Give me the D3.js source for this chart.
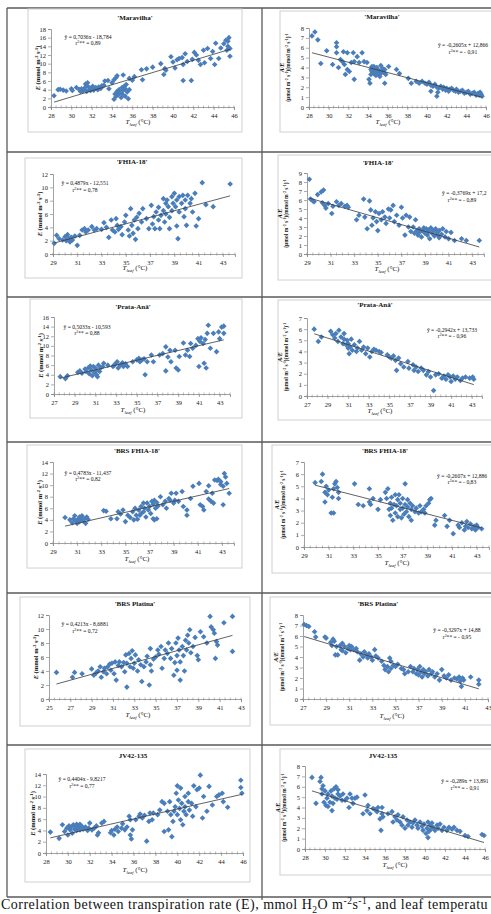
<!DOCTYPE html>
<html><head><meta charset="utf-8">
<script src="https://cdn.jsdelivr.net/npm/d3@7/dist/d3.min.js"></script>
<style>body{margin:0;background:#fff;overflow:hidden}svg{display:block}</style>
</head><body>
<svg id="c" width="491" height="914"></svg>
<script>
// ---------- DATA ----------
const titles = ["'Maravilha'", "'FHIA-18'", "'Prata-Anã'", "'BRS FHIA-18'", "'BRS Platina'", "JV42-135"];
const eqE = ["ŷ = 0,7036x - 18,784", "ŷ = 0,4879x - 12,551", "ŷ = 0,5033x - 10,593", "ŷ = 0,4783x - 11,437", "ŷ = 0,4213x - 8,6881", "ŷ = 0,4404x - 9,8217"];
const r2E = ["0,89", "0,78", "0,88", "0,82", "0,72", "0,77"];
const eqAE = ["ŷ = -0,2605x + 12,866", "ŷ = -0,3769x + 17,2", "ŷ = -0,2942x + 13,733", "ŷ = -0,2607x + 12,886", "ŷ = -0,3297x + 14,88", "ŷ = -0,289x + 13,891"];
const r2AE = ["- 0,91", "- 0,89", "- 0,96", "- 0,83", "- 0,95", "- 0,91"];
const slopeE = [0.7036, 0.4879, 0.5033, 0.4783, 0.4213, 0.4404];
const interE = [-18.784, -12.551, -10.593, -11.437, -8.6881, -9.8217];
const slopeAE = [-0.2605, -0.3769, -0.2942, -0.2607, -0.3297, -0.289];
const interAE = [12.866, 17.214, 13.733, 12.886, 14.88, 13.891];
const xDomE = [[28,46],[29,44],[27,44],[29,44],[25,43],[28,46]];
const xDomAE = [[28,46],[29,44],[27,44],[29,44],[27,43],[28,46]];
const yMaxE = [18, 12, 16, 14, 12, 14];
const yMaxAE = [8, 9, 7, 7, 8, 8];
const caption = "Correlation between transpiration rate (E), mmol H";

const maravilhaE = [[28.3,2.6],[28.7,4.0],[28.9,4.1],[29.2,3.9],[29.5,3.7],[30.0,4.2],[30.1,3.8],[30.5,4.5],[30.8,4.0],[30.9,3.6],[31.0,4.2],[31.1,3.7],[31.2,3.9],[31.3,4.4],[31.4,5.3],[31.5,4.9],[31.5,3.6],[31.6,5.6],[31.7,4.6],[31.8,4.0],[31.9,3.8],[32.0,4.4],[32.1,4.8],[32.2,3.9],[32.3,4.2],[32.4,4.5],[32.6,4.0],[32.7,4.6],[32.9,4.3],[33.0,4.9],[33.2,5.0],[33.3,6.0],[33.6,6.1],[33.7,4.2],[34.0,5.6],[34.2,6.3],[34.4,6.8],[34.5,7.2],[34.2,1.8],[34.3,3.0],[34.4,2.5],[34.5,3.6],[34.6,2.8],[34.7,4.0],[34.8,3.3],[34.9,2.2],[35.0,4.5],[35.0,3.0],[35.1,7.4],[35.1,3.8],[35.2,4.8],[35.3,4.2],[35.3,2.5],[35.4,5.2],[35.5,3.5],[35.6,1.9],[35.7,6.6],[35.7,4.0],[36.0,6.2],[36.2,7.0],[36.9,8.6],[37.0,6.3],[37.4,8.8],[38.0,9.2],[38.8,10.0],[39.1,7.5],[39.2,8.9],[39.3,8.5],[39.8,11.6],[40.0,10.4],[40.2,9.0],[40.4,10.9],[40.6,11.2],[40.9,11.4],[41.0,9.8],[41.0,6.1],[41.2,12.3],[41.4,10.5],[41.8,6.1],[41.9,11.0],[42.1,12.6],[42.3,12.0],[42.5,10.8],[42.7,9.8],[43.0,13.1],[43.1,10.2],[43.4,13.5],[43.7,11.2],[43.9,12.8],[44.1,9.8],[44.2,14.7],[44.5,11.2],[44.7,13.6],[45.0,14.6],[45.2,15.4],[45.3,13.1],[45.4,14.0],[45.5,16.0],[45.6,11.7],[45.6,13.5],[45.4,15.2]];
const maravilhaAE = [[28.3,7.2],[28.6,7.6],[28.9,6.8],[29.2,4.4],[29.8,5.7],[30.4,4.3],[30.8,6.5],[30.8,6.1],[30.8,5.5],[31.0,4.0],[31.2,4.8],[31.4,4.6],[31.5,5.6],[31.6,4.3],[31.7,3.3],[31.9,5.5],[31.9,3.8],[32.1,3.6],[32.3,4.5],[32.5,5.5],[32.6,2.8],[32.6,4.6],[32.9,5.1],[33.1,4.5],[33.4,5.5],[33.6,4.6],[33.9,4.5],[34.1,2.8],[34.2,2.4],[34.3,3.8],[34.4,4.1],[34.3,3.3],[34.4,3.6],[34.5,3.9],[34.6,3.4],[34.7,3.7],[34.8,3.2],[34.9,4.0],[35.0,3.5],[35.0,3.8],[35.1,3.3],[35.2,3.6],[35.3,4.2],[35.3,3.4],[35.4,3.7],[35.5,3.9],[35.6,3.5],[35.7,3.8],[35.8,3.3],[34.6,4.1],[35.2,3.1],[35.7,2.4],[36.1,4.1],[36.9,3.8],[37.2,3.4],[38.1,2.9],[38.4,2.4],[38.9,2.6],[39.2,2.4],[39.5,2.6],[39.8,2.4],[40.0,2.3],[40.2,2.5],[40.4,2.2],[40.4,1.6],[40.6,2.1],[40.8,2.3],[41.0,1.1],[41.1,1.5],[41.0,2.0],[41.2,1.9],[41.4,2.1],[41.6,1.8],[41.7,2.0],[41.9,1.7],[42.0,1.9],[42.2,1.6],[42.3,1.8],[42.5,1.9],[42.7,1.7],[42.9,1.6],[43.0,1.8],[43.2,1.5],[43.4,1.6],[43.6,1.7],[43.8,1.4],[44.0,1.5],[44.2,1.6],[44.4,1.3],[44.6,1.4],[44.8,1.5],[45.0,1.2],[45.2,1.4],[45.3,1.2],[45.5,1.3],[45.6,1.1],[45.4,1.5]];
const fhiaE = [[29.1,1.6],[29.3,2.8],[29.5,2.3],[29.8,2.1],[30.0,2.6],[30.1,2.0],[30.2,2.9],[30.3,2.3],[30.4,1.8],[30.5,2.5],[30.6,2.1],[30.8,2.7],[31.0,1.3],[31.2,2.8],[31.4,3.6],[31.6,3.8],[31.7,3.3],[31.9,3.6],[32.2,4.1],[32.4,3.6],[32.6,3.8],[33.0,3.7],[33.2,4.7],[33.4,4.0],[33.6,2.5],[33.8,5.1],[33.9,3.6],[34.1,3.3],[34.2,5.3],[34.3,4.3],[34.4,3.7],[34.6,4.1],[34.7,2.9],[34.9,4.8],[35.0,5.8],[35.2,3.6],[35.3,2.7],[35.4,6.8],[35.5,4.3],[35.6,3.1],[35.7,5.1],[35.8,2.2],[35.9,5.5],[36.0,3.8],[36.1,6.1],[36.3,4.8],[36.4,6.8],[36.7,5.3],[36.9,3.8],[37.1,7.3],[37.2,4.5],[37.3,5.6],[37.4,3.8],[37.5,6.3],[37.7,5.1],[37.7,7.0],[37.8,3.8],[37.9,5.8],[38.1,8.3],[38.1,6.5],[38.2,4.8],[38.3,7.6],[38.3,6.0],[38.4,8.1],[38.5,7.1],[38.6,3.8],[38.6,5.5],[38.8,8.6],[38.8,6.5],[38.9,7.6],[39.0,9.1],[39.1,7.1],[39.2,8.1],[39.2,4.2],[39.3,2.3],[39.4,8.6],[39.4,6.3],[39.6,7.6],[39.7,8.8],[39.8,5.6],[39.9,8.1],[39.9,6.8],[40.0,4.3],[40.1,8.8],[40.3,7.6],[40.4,8.3],[40.5,6.3],[40.7,9.1],[40.8,4.2],[41.0,5.3],[41.3,10.7],[41.6,7.4],[42.2,7.1],[43.6,10.5]];
const fhiaAE = [[29.2,8.3],[29.3,6.1],[29.5,5.9],[29.6,5.8],[29.9,6.6],[30.2,6.9],[30.4,7.1],[30.3,5.7],[30.5,5.4],[30.6,5.1],[30.8,5.6],[31.1,4.5],[31.2,5.3],[31.5,5.8],[31.7,5.4],[31.9,5.6],[32.2,5.3],[32.4,5.4],[32.5,5.2],[33.2,3.8],[33.4,4.3],[33.8,6.1],[33.9,4.1],[34.1,2.8],[34.3,5.9],[34.4,4.9],[34.5,3.2],[34.6,4.0],[34.8,4.7],[34.9,3.6],[35.0,2.6],[35.1,4.5],[35.3,3.8],[35.4,4.7],[35.6,4.1],[35.7,3.4],[35.9,5.0],[36.0,4.0],[36.1,4.9],[36.3,5.4],[36.4,3.6],[36.6,4.3],[36.8,3.2],[37.0,5.2],[37.1,4.0],[37.3,2.1],[37.4,4.3],[37.6,3.0],[37.7,4.1],[37.8,2.5],[38.0,3.0],[38.1,2.3],[38.2,3.8],[38.3,2.6],[38.4,2.1],[38.5,2.8],[38.6,2.5],[38.7,1.9],[38.8,2.6],[39.0,2.3],[39.1,2.8],[39.2,2.1],[39.3,2.5],[39.4,1.7],[39.5,2.9],[39.6,2.3],[39.7,2.6],[39.8,2.0],[39.9,2.8],[40.0,2.4],[40.2,1.8],[40.2,2.6],[40.4,2.2],[40.5,2.8],[40.7,1.9],[40.8,2.5],[41.0,1.7],[41.2,2.4],[41.5,1.5],[42.1,1.7],[42.5,1.5],[43.6,1.5],[38.9,2.9],[39.3,2.7],[38.5,2.4],[40.1,2.1]];
const prataE = [[27.6,3.6],[28.1,3.2],[28.3,3.8],[29.3,4.5],[29.5,4.8],[29.7,4.3],[30.0,5.2],[30.1,4.7],[30.3,5.4],[30.4,4.2],[30.5,5.8],[30.6,5.0],[30.7,3.8],[30.8,5.7],[30.9,4.5],[31.0,5.4],[31.1,4.0],[31.1,4.9],[31.2,3.6],[31.3,6.0],[31.4,4.7],[31.5,5.4],[31.7,5.7],[31.8,6.4],[32.2,6.0],[32.7,5.7],[32.8,6.0],[33.0,6.4],[33.1,6.7],[33.2,5.4],[33.4,6.0],[33.6,6.5],[33.7,5.7],[33.9,6.3],[34.1,5.7],[34.6,6.7],[35.0,7.1],[35.2,7.4],[35.3,6.7],[35.5,7.1],[35.7,7.3],[35.8,4.0],[36.0,6.7],[36.4,8.1],[36.6,6.7],[37.2,8.1],[37.5,8.4],[37.8,4.8],[37.8,9.8],[38.0,7.7],[38.2,9.1],[38.3,6.7],[38.7,9.1],[38.8,5.4],[39.0,5.0],[39.1,7.8],[39.5,10.6],[39.7,8.1],[39.9,9.1],[40.1,7.8],[40.2,10.5],[40.4,9.5],[40.7,10.1],[40.9,11.5],[41.0,5.7],[41.1,10.9],[41.2,11.7],[41.4,10.5],[41.5,6.4],[41.6,11.3],[41.7,5.4],[41.8,12.6],[41.9,14.3],[42.1,9.5],[42.4,12.6],[42.7,8.8],[42.9,12.9],[43.0,11.5],[43.2,13.9],[43.4,12.6],[43.4,14.1]];
const prataAE = [[27.7,6.0],[28.1,4.9],[28.4,5.3],[29.3,5.8],[29.5,5.5],[29.7,5.2],[29.8,5.6],[30.0,4.9],[30.1,5.9],[30.3,5.3],[30.5,4.7],[30.6,5.1],[30.6,5.6],[30.8,4.6],[30.9,5.0],[31.0,4.3],[31.0,4.7],[31.1,3.8],[31.2,4.4],[31.3,5.1],[31.4,4.1],[31.6,4.6],[31.8,4.0],[31.9,4.3],[32.1,4.9],[32.3,4.1],[32.5,4.4],[32.7,3.8],[32.9,4.3],[33.1,3.5],[33.3,4.0],[33.5,4.2],[33.7,4.1],[34.0,4.0],[34.2,3.9],[34.8,3.7],[35.0,3.5],[35.2,3.4],[35.4,3.6],[35.6,3.2],[35.7,2.3],[35.9,3.4],[36.1,2.9],[36.4,2.6],[36.8,3.1],[36.9,2.5],[37.3,2.8],[37.4,2.3],[37.6,2.6],[37.8,2.2],[38.1,2.5],[38.3,2.3],[38.6,1.9],[38.8,2.2],[39.0,1.7],[39.3,0.5],[39.5,1.9],[39.8,2.0],[40.1,1.6],[40.3,1.8],[40.5,1.5],[40.7,1.9],[40.9,1.7],[41.0,1.3],[41.2,1.8],[41.4,1.5],[41.6,1.7],[41.9,1.4],[42.1,1.6],[42.4,1.7],[42.8,1.6],[43.1,1.7],[43.2,1.5]];
const brsFhiaE = [[30.0,4.4],[30.4,4.0],[30.6,3.5],[30.7,4.2],[30.8,4.7],[30.9,3.8],[31.0,3.4],[31.1,4.2],[31.2,4.5],[31.2,3.7],[31.4,4.1],[31.4,4.7],[31.5,3.8],[31.6,4.2],[31.7,3.4],[31.8,4.5],[31.9,4.1],[33.2,5.6],[33.4,5.5],[33.8,4.2],[34.3,4.2],[34.4,5.4],[34.6,5.0],[34.8,5.7],[35.0,3.7],[35.2,4.8],[35.4,4.4],[35.6,5.4],[35.7,4.0],[35.8,6.0],[35.9,4.8],[36.0,4.1],[36.1,5.7],[36.2,4.8],[36.3,6.3],[36.3,5.1],[36.5,6.9],[36.5,5.4],[36.6,6.0],[36.7,4.5],[36.8,6.9],[36.9,5.7],[37.0,6.3],[37.1,5.1],[37.2,7.2],[37.3,4.2],[37.3,6.7],[37.4,4.0],[37.4,7.4],[37.5,6.0],[37.6,4.2],[37.6,7.0],[37.7,6.4],[37.9,8.0],[38.1,6.6],[38.3,7.2],[38.4,6.0],[38.6,7.7],[38.7,7.4],[38.8,8.6],[39.0,6.9],[39.1,7.4],[39.2,8.6],[39.4,7.2],[39.7,8.9],[39.8,6.3],[40.1,4.8],[40.1,5.7],[40.4,7.7],[40.6,9.8],[41.1,10.3],[41.2,6.6],[41.4,6.3],[41.5,5.7],[41.7,8.9],[41.9,9.9],[41.9,7.6],[42.1,7.2],[42.2,8.6],[42.3,6.9],[42.4,10.9],[42.6,10.8],[42.7,11.0],[42.9,10.6],[42.9,10.1],[43.1,6.6],[43.1,9.8],[43.2,12.0],[43.3,11.4],[43.4,10.3],[43.6,8.6]];
const brsFhiaAE = [[29.9,5.3],[30.4,5.4],[30.5,6.0],[30.7,4.5],[30.7,3.7],[30.8,5.0],[30.9,4.3],[31.0,4.7],[31.2,2.8],[31.3,4.1],[31.4,4.8],[31.4,2.8],[31.5,5.2],[31.6,5.4],[31.7,4.9],[31.8,4.0],[31.8,4.5],[33.1,5.2],[33.4,3.5],[33.8,3.4],[34.3,4.8],[34.3,3.7],[34.4,3.5],[34.6,4.0],[35.0,3.1],[35.2,3.9],[35.6,4.5],[35.7,4.0],[35.8,4.8],[35.9,3.1],[36.0,3.6],[36.0,2.6],[36.1,4.1],[36.1,3.2],[36.2,2.2],[36.3,3.5],[36.4,4.3],[36.4,2.8],[36.5,3.4],[36.6,3.9],[36.6,2.5],[36.7,4.3],[36.8,3.1],[36.8,3.6],[36.9,2.4],[37.0,3.2],[37.0,4.0],[37.1,2.7],[37.2,5.2],[37.2,3.5],[37.3,2.9],[37.4,3.9],[37.4,3.3],[37.5,2.5],[37.6,3.6],[37.7,3.1],[37.7,2.2],[37.8,3.4],[38.0,2.9],[38.1,3.2],[38.3,2.8],[38.4,3.4],[38.5,2.9],[38.7,3.1],[38.8,2.8],[38.9,3.4],[39.1,3.6],[39.2,3.9],[39.3,4.0],[39.6,1.8],[39.7,2.2],[40.4,2.6],[40.6,1.7],[40.8,2.2],[41.1,1.1],[41.5,1.8],[41.6,1.6],[41.8,2.0],[42.0,1.4],[42.1,1.7],[42.2,2.1],[42.3,1.6],[42.5,1.9],[42.6,1.5],[42.8,1.7],[42.9,1.4],[43.0,1.8],[43.1,1.6],[43.4,1.5]];
const platinaE = [[25.7,3.8],[27.2,3.1],[27.4,3.8],[28.1,3.6],[29.0,4.3],[29.2,3.4],[29.4,3.7],[29.6,4.0],[29.8,4.6],[29.9,3.1],[30.1,3.9],[30.2,4.4],[30.4,3.6],[30.5,4.6],[30.7,5.0],[30.8,4.1],[30.9,5.1],[31.1,3.6],[31.2,5.3],[31.3,2.7],[31.5,4.8],[31.6,5.3],[31.8,4.6],[32.0,5.2],[32.1,3.9],[32.2,6.3],[32.3,1.7],[32.3,5.1],[32.5,6.5],[32.6,4.6],[32.7,5.8],[32.8,6.9],[32.9,4.4],[33.0,5.1],[33.1,6.3],[33.3,4.0],[33.4,5.6],[33.6,4.9],[33.7,2.5],[33.9,4.6],[34.1,5.3],[34.2,6.1],[34.4,2.0],[34.5,4.9],[34.5,7.2],[34.6,4.0],[34.8,5.7],[35.0,6.0],[35.2,7.0],[35.3,6.4],[35.5,7.5],[35.6,4.4],[35.8,5.8],[35.9,7.0],[36.1,6.5],[36.2,8.0],[36.4,5.8],[36.5,7.2],[36.7,3.4],[36.8,5.2],[36.9,8.0],[37.0,6.2],[37.0,4.1],[37.1,8.7],[37.2,7.0],[37.3,5.3],[37.3,2.7],[37.5,7.5],[37.6,6.2],[37.7,4.0],[37.8,8.4],[37.9,7.0],[38.0,9.1],[38.1,8.0],[38.2,9.9],[38.3,6.6],[38.5,7.5],[38.7,8.8],[38.9,6.2],[39.0,5.6],[39.2,9.6],[39.5,8.9],[39.8,8.0],[40.1,11.8],[40.2,10.3],[40.4,9.9],[40.5,9.4],[40.6,5.8],[40.7,8.2],[40.8,7.7],[41.4,10.9],[42.2,11.8],[42.2,6.8]];
const platinaAE = [[27.1,7.1],[27.3,7.0],[27.5,6.9],[28.0,6.4],[28.1,5.9],[28.9,5.9],[29.0,5.8],[29.4,5.4],[29.5,5.1],[29.6,5.7],[29.7,5.5],[29.8,4.2],[29.9,5.0],[30.0,4.2],[30.2,5.1],[30.3,4.7],[30.4,5.3],[30.4,4.6],[30.6,5.0],[30.7,4.4],[30.9,4.8],[31.0,5.1],[31.1,4.7],[31.2,5.0],[31.4,4.7],[31.6,4.8],[31.7,4.5],[31.9,3.7],[32.0,4.3],[32.2,4.0],[32.3,4.5],[32.5,4.2],[32.6,3.9],[32.7,4.3],[32.9,4.0],[33.0,3.7],[33.2,4.7],[33.3,4.1],[33.5,3.9],[33.8,3.6],[34.0,3.2],[34.1,2.8],[34.3,3.1],[34.4,2.6],[34.5,3.9],[34.6,2.9],[34.6,3.6],[34.8,3.2],[35.0,3.1],[35.2,3.3],[35.5,2.9],[35.7,2.8],[35.8,2.4],[36.1,2.6],[36.3,3.1],[36.5,2.6],[36.6,2.9],[36.8,2.4],[36.9,2.8],[37.0,2.3],[37.1,3.1],[37.2,2.6],[37.3,2.1],[37.4,2.8],[37.5,2.4],[37.6,2.6],[37.8,2.2],[37.9,2.8],[38.1,2.4],[38.2,2.6],[38.4,2.1],[38.6,2.4],[38.8,1.8],[39.0,2.8],[39.2,2.2],[39.4,2.0],[39.6,2.3],[39.8,1.8],[40.1,2.0],[40.3,1.9],[40.5,2.1],[40.6,1.7],[40.7,1.2],[40.8,2.0],[40.9,1.8],[41.5,2.1],[42.2,1.8],[42.2,1.4]];
const jvE = [[28.4,3.7],[29.2,2.6],[29.5,5.0],[29.7,3.8],[29.9,4.4],[30.0,3.2],[30.1,4.8],[30.2,4.1],[30.3,4.6],[30.4,3.5],[30.5,5.0],[30.6,4.2],[30.7,4.7],[30.8,5.1],[30.8,4.0],[30.9,4.8],[31.0,4.4],[31.1,5.1],[31.1,4.1],[31.3,4.7],[31.4,4.2],[31.6,4.6],[31.8,4.0],[31.9,4.4],[32.0,5.3],[32.2,4.1],[32.4,4.4],[32.6,4.8],[32.7,3.2],[32.8,3.6],[33.1,5.3],[33.3,5.6],[33.9,3.6],[34.0,4.0],[34.2,3.2],[34.3,4.2],[34.5,4.6],[34.6,3.8],[34.9,4.4],[35.0,5.2],[35.2,4.1],[35.4,4.6],[35.6,6.5],[35.7,5.9],[35.7,3.2],[35.8,2.5],[35.9,4.1],[36.2,5.9],[36.5,6.5],[36.6,6.9],[36.8,6.2],[37.0,6.7],[37.2,2.1],[37.4,5.6],[37.5,7.1],[37.7,5.9],[37.8,7.1],[38.2,6.8],[38.4,7.6],[38.6,9.1],[38.8,8.8],[38.8,3.8],[39.1,7.4],[39.2,4.1],[39.3,9.1],[39.4,6.8],[39.5,2.9],[39.6,5.6],[39.7,7.4],[39.8,8.2],[39.9,10.6],[40.0,6.8],[40.0,11.9],[40.1,9.4],[40.2,7.9],[40.3,5.9],[40.3,11.5],[40.4,8.8],[40.5,5.0],[40.6,7.4],[40.7,10.0],[40.7,8.2],[40.8,6.8],[41.0,9.1],[41.0,10.6],[41.1,7.6],[41.3,8.8],[41.4,6.5],[41.5,11.9],[41.7,8.2],[41.8,11.2],[42.0,11.5],[42.1,13.8],[42.3,6.2],[42.4,10.0],[42.7,7.4],[42.9,11.8],[43.2,8.5],[43.6,10.0],[43.8,10.3],[44.1,10.6],[44.2,9.1],[44.6,8.1],[45.8,11.6],[45.8,12.9],[45.9,10.6]];
const jvAE = [[28.7,6.9],[29.1,4.4],[29.5,6.5],[29.6,6.9],[29.7,5.8],[29.7,5.3],[29.8,6.1],[29.9,4.5],[30.0,5.6],[30.1,4.2],[30.2,4.9],[30.3,4.1],[30.3,5.3],[30.5,4.5],[30.6,5.6],[30.7,3.7],[30.7,5.1],[30.8,4.4],[30.9,5.8],[31.0,4.9],[31.1,6.0],[31.2,4.8],[31.3,5.3],[31.3,5.7],[31.5,5.1],[31.7,4.7],[31.8,5.3],[32.0,4.7],[32.2,4.9],[32.4,4.0],[32.5,5.3],[32.7,4.9],[32.8,4.4],[33.0,4.9],[33.2,5.0],[33.8,3.4],[34.0,5.2],[34.2,3.7],[34.3,4.2],[34.5,3.4],[34.8,3.9],[35.0,3.8],[35.2,3.6],[35.3,4.0],[35.5,2.9],[35.6,1.8],[35.7,3.4],[35.7,4.0],[35.8,3.1],[36.3,3.4],[36.7,3.6],[36.8,2.6],[37.0,3.1],[37.2,2.8],[37.3,3.3],[37.5,2.6],[37.7,2.3],[37.8,3.1],[38.0,2.0],[38.2,2.8],[38.3,2.3],[38.5,2.6],[38.7,2.1],[38.8,2.5],[39.0,2.8],[39.2,2.3],[39.3,2.0],[39.5,2.6],[39.7,2.2],[39.8,1.8],[39.9,2.4],[40.1,1.5],[40.2,2.0],[40.3,1.1],[40.3,2.6],[40.4,1.7],[40.5,2.3],[40.6,1.9],[40.7,2.5],[40.8,2.1],[41.0,1.8],[41.2,2.3],[41.3,2.0],[41.5,2.4],[41.7,1.8],[41.9,2.1],[42.2,1.8],[42.4,2.1],[42.7,1.9],[42.9,2.1],[43.2,1.8],[43.5,1.7],[44.0,1.3],[44.3,1.2],[45.7,1.4],[45.9,1.3]];

const dataE = [maravilhaE, fhiaE, prataE, brsFhiaE, platinaE, jvE];
const dataAE = [maravilhaAE, fhiaAE, prataAE, brsFhiaAE, platinaAE, jvAE];

// ---------- LAYOUT (positions only) ----------
const layoutE = [
 {frame:[28,9,214,123], plot:[51,234,107,29], title:[135,20], xlab:[138,124], ylab:40, eq:[88,39,"middle"], r2:[88,45]},
 {frame:[25,158,217,120], plot:[53,235,254,174], title:[132,164], xlab:[135,270], ylab:42, eq:[85,185,"middle"], r2:[85,192]},
 {frame:[30,299,212,119], plot:[54,230,394,317], title:[133,309], xlab:[133,412], ylab:43, eq:[87,329,"middle"], r2:[87,335]},
 {frame:[27,445,215,123], plot:[53,234,543,462], title:[137,453], xlab:[137,561], ylab:42, eq:[88,475,"middle"], r2:[88,481]},
 {frame:[20,597,230,129], plot:[49,241,699,615], title:[135,606], xlab:[138,717], ylab:38, eq:[85,626,"middle"], r2:[85,633]},
 {frame:[25,749,225,133], plot:[46,243,853,774], title:[133,758], xlab:[135,872], ylab:35, eq:[82,781,"middle"], r2:[82,788]}
];
const layoutAE = [
 {frame:[280,11,215,121], plot:[309,486,107,28], title:[382,19], xlab:[388,124], ylab:284, eq:[463,47,"middle"], r2:[463,54]},
 {frame:[278,155,215,125], plot:[307,484,254,173], title:[378,165], xlab:[387,271], ylab:282, eq:[442,195,"start"], r2:[462,202]},
 {frame:[278,300,215,120], plot:[307,482,396,318], title:[375,307], xlab:[380,413], ylab:282, eq:[452,332,"middle"], r2:[452,338]},
 {frame:[272,445,220,128], plot:[304,489,547,462], title:[385,453], xlab:[397,565], ylab:279, eq:[437,478,"start"], r2:[462,484]},
 {frame:[270,597,225,128], plot:[303,488,699,615], title:[378,606], xlab:[392,718], ylab:278, eq:[457,632,"middle"], r2:[457,639]},
 {frame:[280,749,215,126], plot:[305,485,849,766], title:[383,758], xlab:[395,867], ylab:280, eq:[465,783,"middle"], r2:[465,790]}
];

const SERIF = "'Liberation Serif','Times New Roman',serif";
const svg = d3.select("#c");
svg.append("rect").attr("width",491).attr("height",914).attr("fill","#fff");

function rich(sel, parts, size) {
  let off = 0;
  parts.forEach(p => {
    const ts = sel.append("tspan").text(p.t);
    if (p.i) ts.attr("font-style","italic");
    if (p.b) ts.attr("font-weight","bold");
    let target = 0;
    if (p.sup) { target = -size*0.38; ts.attr("font-size", size*0.68); }
    else if (p.sub) { target = size*0.28; ts.attr("font-size", size*0.68); }
    if (target !== off) { ts.attr("dy", target - off); off = target; }
  });
}

// table grid
const grid = svg.append("g").attr("stroke","#5a5a5a").attr("stroke-width",1.3);
[8,152,297,442,593,745,897].forEach(yy => grid.append("line").attr("x1",7).attr("x2",491).attr("y1",yy).attr("y2",yy));
grid.append("line").attr("x1",7).attr("x2",7).attr("y1",8).attr("y2",897);
grid.append("line").attr("x1",262).attr("x2",262).attr("y1",8).attr("y2",900);

const diamond = "M0,-2.8L2.8,0L0,2.8L-2.8,0Z";

function drawPanel(i, kind) {
  const L = kind === "E" ? layoutE[i] : layoutAE[i];
  const data = kind === "E" ? dataE[i] : dataAE[i];
  const xd = kind === "E" ? xDomE[i] : xDomAE[i];
  const ym = kind === "E" ? yMaxE[i] : yMaxAE[i];
  const ystep = kind === "E" ? 2 : 1;
  const slope = kind === "E" ? slopeE[i] : slopeAE[i];
  const inter = kind === "E" ? interE[i] : interAE[i];
  const g = svg.append("g");
  g.append("rect").attr("x",L.frame[0]).attr("y",L.frame[1]).attr("width",L.frame[2]).attr("height",L.frame[3])
    .attr("fill","#fff").attr("stroke","#d0d0d0").attr("stroke-width",1);
  const [xL,xR,yB,yT] = L.plot;
  const x = d3.scaleLinear().domain(xd).range([xL,xR]);
  const y = d3.scaleLinear().domain([0,ym]).range([yB,yT]);

  const yAx = g.append("g").attr("transform",`translate(${xL},0)`)
    .call(d3.axisLeft(y).tickValues(d3.range(0, ym+0.001, ystep)).tickSize(3).tickPadding(2).tickFormat(d3.format("d")));
  const xAx = g.append("g").attr("transform",`translate(0,${yB})`)
    .call(d3.axisBottom(x).tickValues(d3.range(xd[0], xd[1]+0.001, 2)).tickSize(3).tickPadding(3).tickFormat(d3.format("d")));
  g.append("g").selectAll("line").data(d3.range(xd[0], xd[1]+0.001, 0.5)).join("line")
    .attr("x1",d=>x(d)).attr("x2",d=>x(d)).attr("y1",yB-1.5).attr("y2",yB+1.5)
    .attr("stroke","#8a8a8a").attr("stroke-width",0.6);
  [yAx,xAx].forEach(a => {
    a.select(".domain").attr("stroke","#8a8a8a").attr("stroke-width",0.8);
    a.selectAll(".tick line").attr("stroke","#8a8a8a").attr("stroke-width",0.7);
    a.selectAll("text").attr("font-family",SERIF).attr("font-size",6.5).attr("fill","#222");
  });

  g.append("g").selectAll("path").data(data).join("path")
    .attr("d",diamond).attr("transform",d=>`translate(${x(d[0])},${y(d[1])})`)
    .attr("fill","#4a7ebb");
  const ext = d3.extent(data, d=>d[0]);
  g.append("line").attr("x1",x(ext[0])).attr("x2",x(ext[1]))
    .attr("y1",y(slope*ext[0]+inter)).attr("y2",y(slope*ext[1]+inter))
    .attr("stroke","#3a3a3a").attr("stroke-width",0.8);

  g.append("text").attr("x",L.title[0]).attr("y",L.title[1]).attr("text-anchor","middle")
    .attr("font-family",SERIF).attr("font-weight","bold").attr("font-size",7).attr("fill","#111").text(titles[i]);
  const xl = g.append("text").attr("x",L.xlab[0]).attr("y",L.xlab[1]).attr("text-anchor","middle")
    .attr("font-family",SERIF).attr("font-size",7).attr("fill","#111");
  rich(xl, [{t:"T",i:true},{t:"leaf",i:true,sub:true},{t:" (°C)"}], 7);
  const ymid = (yB+yT)/2;
  if (kind === "E") {
    const yl = g.append("text").attr("transform",`translate(${L.ylab},${ymid}) rotate(-90)`).attr("text-anchor","middle")
      .attr("font-family",SERIF).attr("font-weight","bold").attr("font-size",6.5).attr("fill","#111");
    rich(yl, [{t:"E",i:true},{t:" (mmol m"},{t:"-2",sup:true},{t:" s"},{t:"-1",sup:true},{t:")"}], 6.5);
  } else {
    g.append("text").attr("transform",`translate(${L.ylab},${ymid}) rotate(-90)`).attr("text-anchor","middle")
      .attr("font-family",SERIF).attr("font-weight","bold").attr("font-style","italic").attr("font-size",6).attr("fill","#111").text("A/E");
    const y2 = g.append("text").attr("transform",`translate(${L.ylab+6},${ymid}) rotate(-90)`).attr("text-anchor","middle")
      .attr("font-family",SERIF).attr("font-weight","bold").attr("font-size",5.6).attr("fill","#111");
    rich(y2, [{t:"(µmol m"},{t:"-2",sup:true},{t:" s"},{t:"-1",sup:true},{t:")(mmol m"},{t:"-2",sup:true},{t:" s"},{t:"-1",sup:true},{t:")"},{t:"-1",sup:true}], 5.6);
  }
  g.append("text").attr("x",L.eq[0]).attr("y",L.eq[1]).attr("text-anchor",L.eq[2])
    .attr("font-family",SERIF).attr("font-size",5.6).attr("fill","#111")
    .text(kind === "E" ? eqE[i] : eqAE[i]);
  const r2t = g.append("text").attr("x",L.r2[0]).attr("y",L.r2[1]).attr("text-anchor","middle")
    .attr("font-family",SERIF).attr("font-size",5.6).attr("fill","#111");
  rich(r2t, [{t:"r"},{t:"2",sup:true},{t:"**"},{t:" = " + (kind === "E" ? r2E[i] : r2AE[i])}], 5.6);
}

for (let i = 0; i < 6; i++) { drawPanel(i, "E"); drawPanel(i, "AE"); }

// caption
const cap = svg.append("text").attr("x",1).attr("y",909).attr("font-family",SERIF).attr("font-size",14)
  .attr("fill","#111").attr("letter-spacing",0.48);
rich(cap, [{t:caption},{t:"2",sub:true},{t:"O m"},{t:"-2",sup:true},{t:"s"},{t:"-1",sup:true},{t:", and leaf temperatu"}], 14);
</script>
</body></html>
